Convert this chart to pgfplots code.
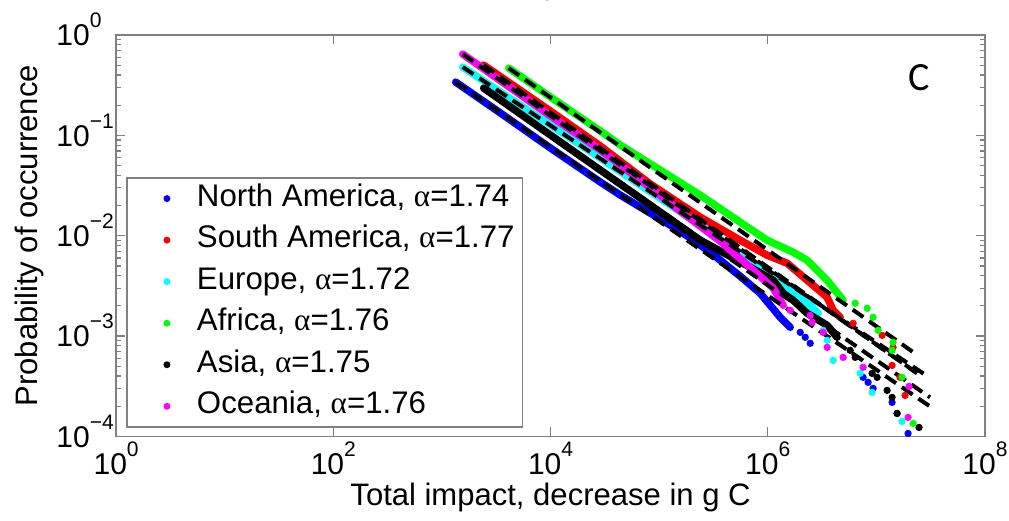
\documentclass[border=0pt]{standalone}
\usepackage{fontspec}
\setmainfont{Liberation Sans}
\newfontfamily\grk{Liberation Serif}
\newfontfamily\calib{Carlito}
\usepackage{pgfplots}
\pgfplotsset{compat=1.18}
\definecolor{mblue}{rgb}{0,0,1}
\definecolor{mred}{rgb}{1,0,0}
\definecolor{mcyan}{rgb}{0,1,1}
\definecolor{mgreen}{rgb}{0,1,0}
\definecolor{mmag}{rgb}{1,0,1}
\newcommand{\tp}[1]{10\raisebox{0.6em}{\fontsize{10.5}{10.5}\selectfont #1}}
\newcommand{\al}{{\grk α}}

\begin{document}
\begin{tikzpicture}
\begin{axis}[
  at={(0,0)}, anchor=south west,
  scale only axis, width=434pt, height=200.5pt,
  xmode=log, ymode=log,
  xmin=1, xmax=1e8, ymin=1e-4, ymax=1,
  xtick={1,1e2,1e4,1e6,1e8},
  xticklabels={\tp{0},\tp{2},\tp{4},\tp{6},\tp{8}},
  ytick={1e-4,1e-3,1e-2,1e-1,1},
  yticklabels={\tp{−4},\tp{−3},\tp{−2},\tp{−1},\tp{0}},
  xminorticks=false,
  tick align=inside, major tick length=4.5pt, minor tick length=2.5pt,
  axis line style={black!50, line width=0.8pt},
  tick style={black!50, line width=0.6pt},
  ticklabel style={font=\fontsize{15}{15}\selectfont, inner sep=0pt},
  xticklabel style={anchor=base, yshift=-19pt},
  yticklabel style={anchor=base west, xshift=-30pt, yshift=-5.4pt},
  xlabel={Total impact, decrease in g C},
  ylabel={Probability of occurrence},
  label style={font=\fontsize{15.5}{15.5}\selectfont, inner sep=0pt},
  xlabel style={at={(axis description cs:0.5,-0.152)}, anchor=center},
  ylabel style={at={(axis description cs:-0.1002,0.5)}, anchor=center},
  legend style={at={(axis description cs:0.0115,0.022)}, anchor=south west,
    draw=black!50, line width=0.8pt, fill=white,
    font=\fontsize{15.6}{15.6}\selectfont,
    inner xsep=4pt, inner ysep=3pt, row sep=6.25pt,
    nodes={inner sep=0pt, text height=11pt, text depth=3.5pt},
    /tikz/every odd column/.style={column sep=13.3pt}},
  legend cell align=left,
  legend image code/.code={\path[draw=none, fill=none] (0pt,0pt) -- (17.3pt,0pt); \fill (16pt,0pt) circle (1.3pt);},
]
\addlegendimage{mblue}\addlegendentry{North America, \al=1.74}
\addlegendimage{mred}\addlegendentry{South America, \al=1.77}
\addlegendimage{mcyan}\addlegendentry{Europe, \al=1.72}
\addlegendimage{mgreen}\addlegendentry{Africa, \al=1.76}
\addlegendimage{black}\addlegendentry{Asia, \al=1.75}
\addlegendimage{mmag}\addlegendentry{Oceania, \al=1.76}

% North America
\addplot[mblue, line width=3.7pt, line cap=round, line join=round, forget plot] coordinates {
(1337,0.3398) (3467,0.1667) (1.0e4,0.07464) (2.884e4,0.03419) (4.406e4,0.02535)
(8.318e4,0.01676) (1.567e5,0.01109) (2.958e5,0.006846) (5.585e5,0.003942)
(8.531e5,0.002667) (1.054e6,0.002026) (1.303e6,0.001538) (1.611e6,0.001222)};
\addplot[mblue, only marks, mark=*, mark size=1.6pt, forget plot] coordinates {
(1.991e6,0.001089) (2.213e6,0.0009727) (2.460e6,0.0008472) (7.551e6,0.0003882)
(8.395e6,0.0003459) (9.333e6,0.0003013) (1.396e7,0.0002184) (1.552e7,0.0001695)
(1.959e7,0.0001071)};
% South America
\addplot[mred, line width=3.7pt, line cap=round, line join=round, forget plot] coordinates {
(2421,0.5021) (1.0e4,0.1745) (2.884e4,0.07813) (8.318e4,0.03266) (2.393e5,0.01531)
(5.585e5,0.009016) (9.886e5,0.006383) (1.510e6,0.005316) (2.307e6,0.003597)
(3.524e6,0.002438) (3.999e6,0.001807) (4.645e6,0.001538)};
\addplot[mred, only marks, mark=*, mark size=1.6pt, forget plot] coordinates {
(6.109e6,0.00134) (1.130e7,0.001016) (1.426e7,0.0007727) (1.396e7,0.0005105)
(1.652e7,0.0003882) (1.837e7,0.0002564)};
% Europe
\addplot[mcyan, line width=3.7pt, line cap=round, line join=round, forget plot] coordinates {
(1552,0.4796) (1.0e4,0.1265) (2.884e4,0.05929) (6.730e4,0.03189) (2.393e5,0.01272)
(7.362e5,0.005439) (1.611e6,0.00286) (2.460e6,0.002026) (2.912e6,0.001686)};
\addplot[mcyan, only marks, mark=*, mark size=1.6pt, forget plot] coordinates {
(3.236e6,0.001141) (3.524e6,0.0009072) (3.999e6,0.0005729) (7.096e6,0.0004249)
(9.141e6,0.0002747) (1.726e7,0.0001411)};
% Africa
\addplot[mgreen, line width=3.7pt, line cap=round, line join=round, forget plot] coordinates {
(4111,0.4687) (1.0e4,0.2407) (2.884e4,0.1103) (4.406e4,0.07989) (1.026e5,0.04501)
(2.393e5,0.02535) (5.585e5,0.01363) (9.886e5,0.009016) (1.714e6,0.006846)
(2.307e6,0.005702) (2.851e6,0.004529) (3.524e6,0.003597) (4.943e6,0.002275)};
\addplot[mgreen, only marks, mark=*, mark size=1.6pt, forget plot] coordinates {
(6.383e6,0.002122) (8.222e6,0.001892) (9.333e6,0.001538) (1.038e7,0.00114)
(1.426e7,0.000867) (1.396e7,0.000721) (1.726e7,0.0003882) (2.178e7,0.0001349)};
% Asia
\addplot[black, line width=3.7pt, line cap=round, line join=round, forget plot] coordinates {
(2421,0.2960) (1.0e4,0.1006) (2.884e4,0.04501) (6.730e4,0.02366) (2.393e5,0.009016)
(6.902e5,0.004853) (1.125e6,0.003597) (1.390e6,0.002667) (1.714e6,0.002275)
(2.307e6,0.001686) (3.524e6,0.00128) (4.355e6,0.0009727)};
\addplot[black, only marks, mark=*, mark size=1.6pt, forget plot] coordinates {
(5.741e6,0.000721) (6.383e6,0.0006138) (9.141e6,0.0004249) (1.016e7,0.0003882)
(1.256e7,0.0002877) (1.396e7,0.0002449) (1.552e7,0.0001695) (2.472e7,0.000123)};
% Oceania
\addplot[mmag, line width=3.7pt, line cap=round, line join=round, forget plot] coordinates {
(1552,0.6463) (1.0e4,0.1556) (2.884e4,0.07127) (6.730e4,0.03577) (1.567e5,0.01756)
(3.656e5,0.008812) (7.362e5,0.004528) (1.125e6,0.002994) (1.390e6,0.002026)};
\addplot[mmag, only marks, mark=*, mark size=1.6pt, forget plot] coordinates {
(1.611e6,0.001807) (2.460e6,0.001611) (2.565e6,0.001371) (3.236e6,0.00109)
(3.524e6,0.0007723) (4.943e6,0.0006138) (7.551e6,0.000488) (2.0e7,0.0003153)
(1.959e7,0.0001547)};

% power-law fits
\pgfplotsset{fit/.style={black, line width=2pt, dash pattern=on 6.5pt off 3.5pt, forget plot}}
\addplot[fit] coordinates {(1337,0.3398) (3.119e7,1.99e-4)};
\addplot[fit] coordinates {(2421,0.5021) (2.371e7,4.246e-4)};
\addplot[fit] coordinates {(1552,0.4796) (2.805e7,4.13e-4)};
\addplot[fit] coordinates {(4111,0.4687) (2.178e7,6.93e-4)};
\addplot[fit] coordinates {(2421,0.2960) (3.119e7,2.449e-4)};
\addplot[fit] coordinates {(1552,0.6463) (2.578e7,4.01e-4)};

\node[font=\calib\fontsize{20}{20}\selectfont] at (rel axis cs:0.924,0.895) {C};
\end{axis}
\node[anchor=south, font=\grk\fontsize{16}{16}\selectfont] at (216.5pt,214pt) {α};
\pgfresetboundingbox
\path (-58pt,-42pt) rectangle (446pt,218pt);
\end{tikzpicture}
\end{document}
